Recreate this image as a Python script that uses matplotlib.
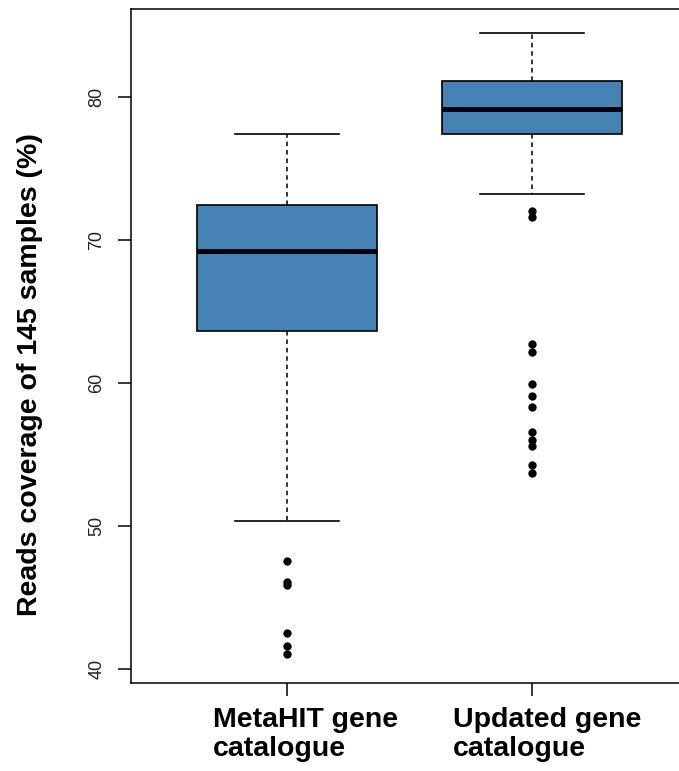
import numpy as np
import matplotlib
matplotlib.use("Agg")
import matplotlib.pyplot as plt
from matplotlib.transforms import ScaledTranslation

plt.rcParams['font.family'] = ['Liberation Sans', 'DejaVu Sans']

# box statistics (% reads coverage)
labels = ['MetaHIT gene\ncatalogue', 'Updated gene\ncatalogue']
whis_lo = [50.37, 73.22]
q1 = [63.66, 77.41]
medians = [69.21, 79.18]
q3 = [72.43, 81.14]
whis_hi = [77.41, 84.48]
fliers_metahit = [47.55, 46.08, 45.87, 42.50, 41.61, 41.05]
fliers_updated = [72.05, 71.63, 62.73, 62.15, 59.93, 59.09, 58.34,
                  56.57, 56.01, 55.62, 54.27, 53.73]
fliers = [fliers_metahit, fliers_updated]

stats = []
for i in range(len(labels)):
    stats.append({'label': labels[i], 'whislo': whis_lo[i], 'q1': q1[i],
                  'med': medians[i], 'q3': q3[i], 'whishi': whis_hi[i],
                  'fliers': fliers[i]})

fig = plt.figure(figsize=(6.79, 7.71), dpi=100)
ax = fig.add_axes([0.1929, 0.1141, 0.821, 0.8742])

ax.bxp(stats, positions=[1, 2], widths=0.735, patch_artist=True,
       capwidths=0.424,
       boxprops=dict(facecolor='#4682B4', edgecolor='black', linewidth=1.2),
       medianprops=dict(color='black', linewidth=3.6, solid_capstyle='butt'),
       whiskerprops=dict(color='black', linewidth=1.1, linestyle=(0, (3, 2.5))),
       capprops=dict(color='black', linewidth=1.2),
       flierprops=dict(marker='o', markerfacecolor='black', markeredgecolor='black',
                       markersize=5, linestyle='none'))

ax.set_xlim(0.3633, 2.6367)
ax.set_ylim(39.02, 86.15)
ax.set_yticks([40, 50, 60, 70, 80])
ax.set_yticklabels(['40', '50', '60', '70', '80'], rotation=90, va='center',
                   fontsize=13, color='#222222')
ax.tick_params(axis='y', length=9.5, width=1.1, pad=9)
ax.tick_params(axis='x', length=9, width=1.1, pad=8)

ax.set_xticks([1, 2])
ax.set_xticklabels(labels, fontsize=20.5, fontweight='bold', ha='left',
                   multialignment='left', linespacing=1.18)
shifts = [-0.74, -0.79]
for lab, s in zip(ax.get_xticklabels(), shifts):
    lab.set_transform(lab.get_transform() + ScaledTranslation(s, 0, fig.dpi_scale_trans))

for side in ['left', 'bottom', 'top']:
    ax.spines[side].set_linewidth(1.1)
ax.spines['right'].set_visible(False)

fig.text(30 / 679, 1 - 375 / 771, 'Reads coverage of 145 samples (%)',
         rotation=90, ha='center', va='center', fontsize=20.5, fontweight='bold')

fig.savefig('out.png', dpi=100)
